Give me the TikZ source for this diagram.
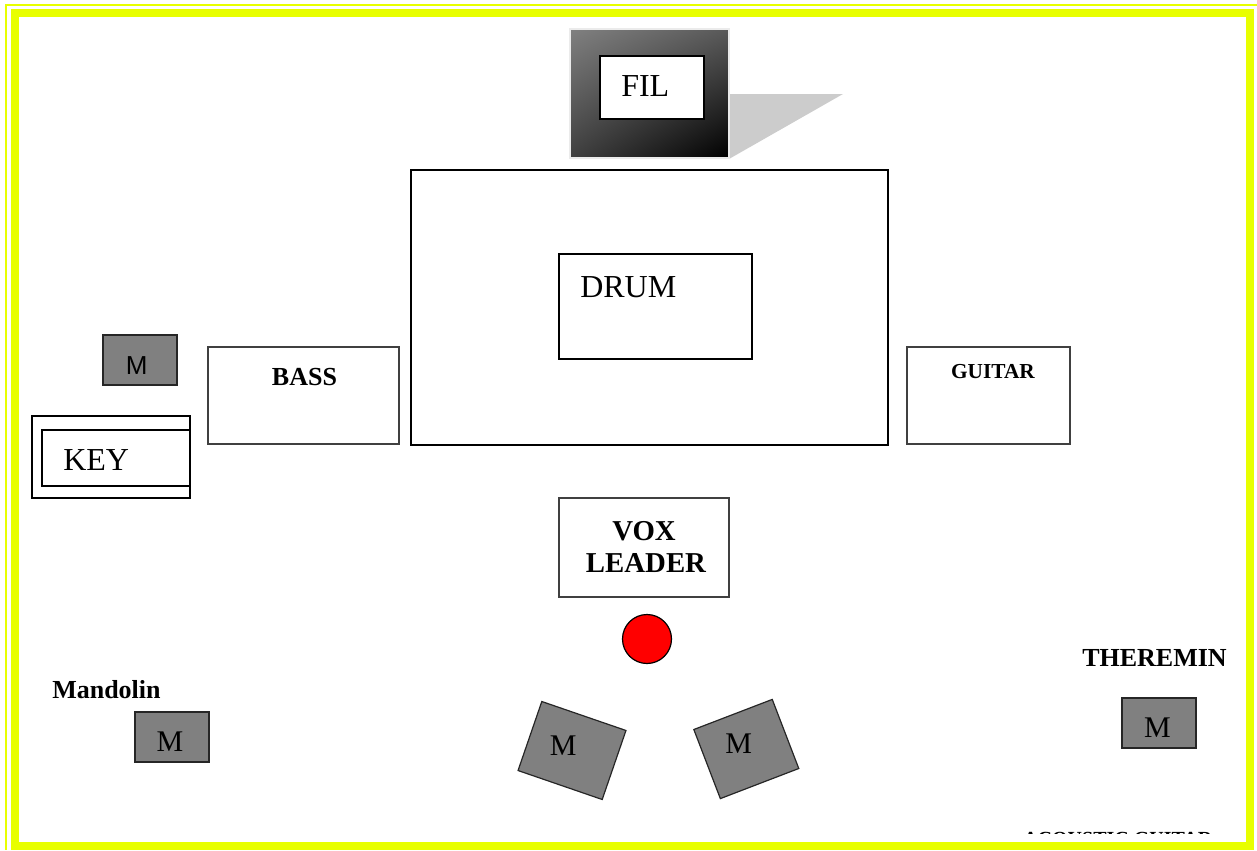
\documentclass[tikz,border=0pt]{standalone}
\usepackage{fontspec}
\usetikzlibrary{shadings}
\setmainfont{Liberation Serif}
\newfontfamily\micsans{Liberation Sans}
\definecolor{stageyellow}{HTML}{E8FF00}
\definecolor{micgray}{HTML}{808080}
\definecolor{filshadow}{HTML}{CCCCCC}
\definecolor{boxline}{HTML}{404040}
\begin{document}
\begin{tikzpicture}[x=0.75pt,y=-0.75pt,
    stagebox/.style={draw=boxline,line width=1.1pt},
    micbox/.style={draw=black!85,fill=micgray,line width=0.9pt},
    bigtext/.style={inner sep=0pt,font=\fontsize{24}{28}\selectfont},
    mictext/.style={inner sep=0pt,anchor=base,font=\fontsize{22.5}{26}\selectfont},
    boldtext/.style={inner sep=0pt,font=\bfseries\fontsize{19.5}{23}\selectfont}]
  \useasboundingbox (0,0) rectangle (1257,850);
  \draw[stageyellow,line width=1.5pt] (1257,5) -- (6,5) -- (6,850);
  \draw[stageyellow,line width=6pt] (15,13) rectangle (1250,846);
  \fill[filshadow] (729,94) -- (843,94) -- (729,159) -- cycle;
  \shade[upper left=micgray,upper right=black!65,lower left=black!75,lower right=black]
    (570,29) rectangle (729,158);
  \draw[black!8,line width=1.1pt] (570,29) rectangle (729,158);
  \draw[fill=white,line width=1.1pt] (600,56) rectangle (704,119);
  \draw[line width=1.5pt] (411,170) rectangle (888,445);
  \draw[line width=1.1pt] (559,254) rectangle (752,359);
  \draw[stagebox] (208,347) rectangle (399,444);
  \draw[stagebox] (907,347) rectangle (1070,444);
  \draw[stagebox] (559,498) rectangle (729,597);
  \draw[line width=1.1pt] (32,416) rectangle (190,498);
  \draw[line width=1.1pt] (42,430) rectangle (190,486);
  \draw[micbox] (103,335) rectangle (177,385);
  \draw[micbox] (135,712) rectangle (209,762);
  \draw[micbox] (1122,698) rectangle (1196,748);
  \node[micbox,rotate=-19,minimum width=66.75pt,minimum height=54.75pt] (micL) at (572,750.5) {};
  \node[micbox,rotate=21,minimum width=63pt,minimum height=55.5pt] (micR) at (746.3,749) {};
  \node[circle,draw,fill=red,line width=0.9pt,minimum size=36.75pt,inner sep=0pt] (spot) at (647,639) {};
  \draw
    (621,96) node[bigtext,anchor=base west] (fil) {FIL}
    (580,297) node[bigtext,anchor=base west] (drum) {DRUM}
    (63,470) node[bigtext,anchor=base west] (key) {KEY}
    (304.5,385) node[boldtext,anchor=base] (bass) {BASS}
    (993,378.5) node[boldtext,anchor=base,font=\bfseries\fontsize{16}{19}\selectfont] (guitar) {GUITAR}
    (644,540) node[boldtext,anchor=base,font=\bfseries\fontsize{21.6}{24}\selectfont] (vox) {VOX}
    (646,572) node[boldtext,anchor=base,font=\bfseries\fontsize{21.6}{24}\selectfont] (leader) {LEADER}
    (52,698) node[boldtext,anchor=base west] (mandolin) {Mandolin}
    (1082,666.7) node[boldtext,anchor=base west] (theremin) {THEREMIN}
    (136.7,374.3) node[mictext,font=\micsans\fontsize{19.5}{23}\selectfont] (keymic) {M}
    (170,751.7) node[mictext] (mandolinmic) {M}
    (1157.5,737.3) node[mictext] (thereminmic) {M}
    (563.3,755.7) node[mictext] (leftmic) {M}
    (738.7,753.3) node[mictext] (rightmic) {M};
  \begin{scope}
    \clip (1000,820) rectangle (1240,833.5);
    \node[boldtext,anchor=base west,font=\bfseries\fontsize{15}{18}\selectfont] (acoustic) at (1023,845.5) {ACOUSTIC GUITAR};
  \end{scope}
\end{tikzpicture}
\end{document}
